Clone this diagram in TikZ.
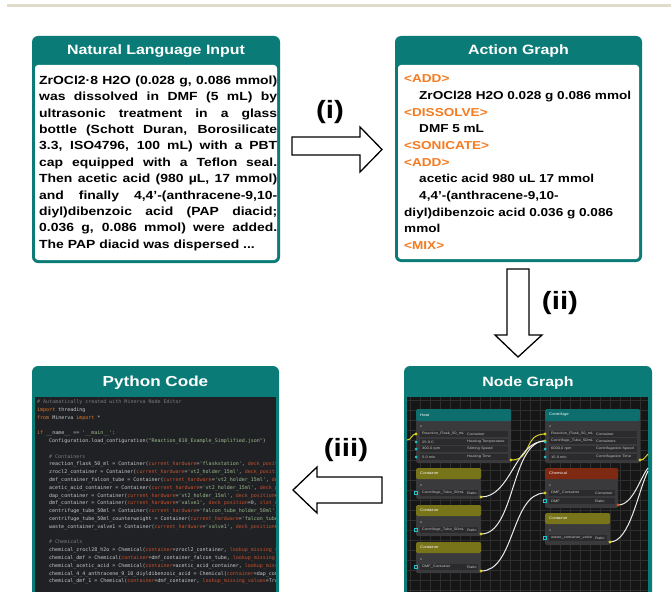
\documentclass[tikz,border=0pt]{standalone}
\usepackage{fontspec}
\setmainfont{Liberation Sans}[FakeStretch=1.18]
\newfontfamily\codefont{DejaVu Sans Mono}

\definecolor{hdteal}{HTML}{0B7B78}
\definecolor{ngteal}{HTML}{0E6E6E}
\definecolor{actorange}{HTML}{F47B20}
\definecolor{barbeige}{HTML}{E1DBCB}
\definecolor{codebg}{HTML}{1F2124}
\definecolor{codetext}{HTML}{C8C8C8}
\definecolor{pykwc}{HTML}{E0782E}
\definecolor{pyargc}{HTML}{C8502C}
\definecolor{pystrc}{HTML}{9FBC8C}
\definecolor{pycomc}{HTML}{7C7C7C}
\definecolor{gridbg}{HTML}{161616}
\definecolor{gridln}{HTML}{2E2E2E}
\definecolor{nodebody}{HTML}{3A3A3C}
\definecolor{rowbg}{HTML}{2B2B2D}
\definecolor{olivehd}{HTML}{77741A}
\definecolor{chemhd}{HTML}{7E2A12}
\definecolor{portcyan}{HTML}{1CC6CF}
\definecolor{portyel}{HTML}{D8CF1E}
\definecolor{portred}{HTML}{D8501E}
\definecolor{ngtextc}{HTML}{C4C4C4}

\newcommand{\pykw}[1]{\textcolor{pykwc}{#1}}
\newcommand{\pyarg}[1]{\textcolor{pyargc}{#1}}
\newcommand{\pystr}[1]{\textcolor{pystrc}{#1}}
\newcommand{\pycom}[1]{\textcolor{pycomc}{#1}}
\newcommand{\ind}{\hspace*{12pt}}
\newcommand{\tagop}[1]{\textcolor{actorange}{<#1>}}
% one row of a graph node: x1, x2, x of right label, y, left text, right text
\newcommand{\ngrow}[6]{%
  \fill[rowbg] (#1+4,#4-2.8) rectangle (#2-3,#4+2.8);
  \node[ngtext, anchor=west] at (#1+6,#4) {#5};
  \node[ngtext, anchor=west] at (#3,#4) {#6};}

\tikzset{
  panel/.style={fill=hdteal, rounded corners=6pt},
  paneltitle/.style={text=white, inner sep=0pt, font=\fontsize{13.5}{16}\selectfont\bfseries},
  bodytext/.style={inner sep=0pt, font=\fontsize{11.8}{16.4}\selectfont\bfseries},
  steplabel/.style={inner sep=0pt, font=\fontsize{25}{29}\selectfont\bfseries},
  blockarrow/.style={draw=black, line width=1.3pt, fill=white, line join=miter},
  ngtext/.style={text=ngtextc, inner sep=0pt, font=\fontsize{3.4}{4}\selectfont},
  ngtitle/.style={text=white, inner sep=0pt, font=\fontsize{3.6}{4}\selectfont},
  wireY/.style={portyel, line width=1pt},
  wireW/.style={white!85!gray, line width=1pt},
}

\begin{document}
\begin{tikzpicture}[x=1pt, y=-1pt]
  \useasboundingbox (0,0) rectangle (671,591);
  % top rule
  \fill[barbeige] (7,4) rectangle (671,7.5);

  % Natural language input
  \fill[panel] (32,36) rectangle (280,263);
  \fill[white, rounded corners=3pt] (35,65) rectangle (277,260);
  \node[paneltitle] (nlTitle) at (156,51) {Natural Language Input};
  \node[bodytext, text width=238pt, align=justify, anchor=north west] (nlText) at (39,75.5) {%
    ZrOCl2·8 H2O (0.028 g, 0.086 mmol)\linebreak
    was dissolved in DMF (5 mL) by\linebreak
    ultrasonic treatment in a glass\linebreak
    bottle (Schott Duran, Borosilicate\linebreak
    3.3, ISO4796, 100 mL) with a PBT\linebreak
    cap equipped with a Teflon seal.\linebreak
    Then acetic acid (980 µL, 17 mmol)\linebreak
    and finally 4,4'-(anthracene-9,10-\linebreak
    diyl)dibenzoic acid (PAP diacid;\linebreak
    0.036 g, 0.086 mmol) were added.\linebreak
    The PAP diacid was dispersed ...};

  % Action graph
  \fill[panel] (395,36) rectangle (642,262);
  \fill[white, rounded corners=3pt] (398,65) rectangle (639,259);
  \node[paneltitle] (agTitle) at (518.5,51) {Action Graph};
  \node[bodytext, font=\fontsize{11.5}{16.7}\selectfont\bfseries, align=left, anchor=north west] (agText) at (404,74.5) {%
    \tagop{ADD}\\
    \hspace*{15pt}ZrOCl28 H2O 0.028 g 0.086 mmol\\
    \tagop{DISSOLVE}\\
    \hspace*{15pt}DMF 5 mL\\
    \tagop{SONICATE}\\
    \tagop{ADD}\\
    \hspace*{15pt}acetic acid 980 uL 17 mmol\\
    \hspace*{15pt}4,4'-(anthracene-9,10-\\
    diyl)dibenzoic acid 0.036 g 0.086\\
    mmol\\
    \tagop{MIX}};

  % Python code
  \fill[panel] (32,366) rectangle (279,600);
  \fill[codebg] (35,397) rectangle (276,600);
  \node[paneltitle, font=\fontsize{14.5}{17}\selectfont\bfseries] (pyTitle) at (155.5,383) {Python Code};
  \begin{scope}
    \clip (35,397) rectangle (275,600);
    \node[anchor=north west, inner sep=0pt, text=codetext, align=left,
      font=\codefont\fontsize{5}{7.8}\selectfont] (pyCode) at (37,399.5) {%
      \pycom{\# Automatically created with Minerva Node Editor}\\
      \pykw{import} threading\\
      \pykw{from} Minerva \pykw{import} *\\[7.8pt]
      \pykw{if} \_\_name\_\_ == \pystr{'\_\_main\_\_'}:\\
      \ind Configuration.load\_configuration(\pystr{"Reaction\_010\_Example\_Simplified.json"})\\[7.8pt]
      \ind\pycom{\# Containers}\\
      \ind reaction\_flask\_50\_ml = Container(\pyarg{current\_hardware}=\pystr{'flaskstation'}, \pyarg{deck\_position}=0, \pyarg{slot\_name}\\
      \ind zrocl2\_container = Container(\pyarg{current\_hardware}=\pystr{'vt2\_holder\_15ml'}, \pyarg{deck\_position}=0, \pyarg{slot}\\
      \ind dmf\_container\_falcon\_tube = Container(\pyarg{current\_hardware}=\pystr{'vt2\_holder\_15ml'}, \pyarg{deck\_position}=1\\
      \ind acetic\_acid\_container = Container(\pyarg{current\_hardware}=\pystr{'vt2\_holder\_15ml'}, \pyarg{deck\_position}=2\\
      \ind dap\_container = Container(\pyarg{current\_hardware}=\pystr{'vt2\_holder\_15ml'}, \pyarg{deck\_position}=0, \pyarg{slot\_name}\\
      \ind dmf\_container = Container(\pyarg{current\_hardware}=\pystr{'valve1'}, \pyarg{deck\_position}=0, \pyarg{slot\_name}=\\
      \ind centrifuge\_tube\_50ml = Container(\pyarg{current\_hardware}=\pystr{'falcon\_tube\_holder\_50ml'}, \pyarg{deck}\\
      \ind centrifuge\_tube\_50ml\_counterweight = Container(\pyarg{current\_hardware}=\pystr{'falcon\_tube\_holder\_50ml'}\\
      \ind waste\_container\_valve1 = Container(\pyarg{current\_hardware}=\pystr{'valve1'}, \pyarg{deck\_position}=0, \pyarg{slot}\\[7.8pt]
      \ind\pycom{\# Chemicals}\\
      \ind chemical\_zrocl28\_h2o = Chemical(\pyarg{container}=zrocl2\_container, \pyarg{lookup\_missing\_values}=True\\
      \ind chemical\_dmf = Chemical(\pyarg{container}=dmf\_container\_falcon\_tube, \pyarg{lookup\_missing\_values}=True\\
      \ind chemical\_acetic\_acid = Chemical(\pyarg{container}=acetic\_acid\_container, \pyarg{lookup\_missing\_values}\\
      \ind chemical\_4\_4\_anthracene\_9\_10\_diyldibenzoic\_acid = Chemical(\pyarg{container}=dap\_container\\
      \ind chemical\_dmf\_1 = Chemical(\pyarg{container}=dmf\_container, \pyarg{lookup\_missing\_values}=True, \pyarg{amount}};
  \end{scope}

  % Node graph
  \fill[panel] (404,366) rectangle (652,600);
  \fill[gridbg] (407,397) rectangle (648,600);
  \node[paneltitle] (ngTitle) at (528,383) {Node Graph};
  \foreach \gx in {410,420,...,640} \draw[gridln, line width=0.5pt] (\gx,397) -- (\gx,600);
  \foreach \gy in {400,410,...,590} \draw[gridln, line width=0.5pt] (407,\gy) -- (648,\gy);

  % Heat
  \fill[nodebody, rounded corners=1.5pt] (416,409) rectangle (511,463);
  \fill[ngteal, rounded corners=1.5pt] (416,409) rectangle (511,421);
  \node[ngtitle, anchor=west] (heatHd) at (420,415) {Heat};
  \node[ngtext, anchor=west] at (420,427) {v};
  \ngrow{416}{511}{467}{434}{Reaction\_Flask\_50\_mL}{Container}
  \ngrow{416}{511}{467}{442}{25.0 C}{Heating Temperature}
  \ngrow{416}{511}{467}{449}{300.0 rpm}{Stirring Speed}
  \ngrow{416}{511}{467}{457}{5.0 min}{Heating Time}

  % Containers on the left
  \foreach \cy/\cname/\clabel in {468/contA/Centrifuge\_Tube\_50mL, 505/contB/Centrifuge\_Tube\_50mL, 542/contC/DMF\_Container}{
    \fill[nodebody, rounded corners=1.5pt] (416,\cy) rectangle (481,\cy+31);
    \fill[olivehd, rounded corners=1.5pt] (416,\cy) rectangle (481,\cy+11);
    \node[ngtitle, anchor=west] (\cname) at (420,\cy+5.5) {Container};
    \node[ngtext, anchor=west] at (420,\cy+18) {v};
    \ngrow{416}{481}{467}{\cy+25}{\clabel}{Ratio}
    \draw[portcyan, line width=0.5pt] (414.5,\cy+23.5) rectangle (417.5,\cy+26.5);
  }

  % Centrifuge
  \fill[nodebody, rounded corners=1.5pt] (545,409) rectangle (640,463);
  \fill[ngteal, rounded corners=1.5pt] (545,409) rectangle (640,421);
  \node[ngtitle, anchor=west] (cfHd) at (549,415) {Centrifuge};
  \node[ngtext, anchor=west] at (549,427) {v};
  \ngrow{545}{640}{596}{434}{Reaction\_Flask\_50\_mL}{Container}
  \ngrow{545}{640}{596}{441}{Centrifuge\_Tube\_50mL}{Containers}
  \ngrow{545}{640}{596}{449}{6000.0 rpm}{Centrifugation Speed}
  \ngrow{545}{640}{596}{457}{15.0 min}{Centrifugation Time}

  % Chemical
  \fill[nodebody, rounded corners=1.5pt] (545,468) rectangle (618,508);
  \fill[chemhd, rounded corners=1.5pt] (545,468) rectangle (618,479);
  \node[ngtitle, anchor=west] (chemHd) at (549,473.5) {Chemical};
  \node[ngtext, anchor=west] at (549,486) {v};
  \ngrow{545}{618}{595}{493}{DMF\_Container}{Container}
  \ngrow{545}{618}{595}{501}{DMF}{Ratio}
  \draw[portcyan, line width=0.5pt] (543.5,499.5) rectangle (546.5,502.5);

  % Container on the right
  \fill[nodebody, rounded corners=1.5pt] (545,513) rectangle (610,545);
  \fill[olivehd, rounded corners=1.5pt] (545,513) rectangle (610,524);
  \node[ngtitle, anchor=west] (contD) at (549,518.5) {Container};
  \node[ngtext, anchor=west] at (549,531) {v};
  \ngrow{545}{610}{595}{538}{waste\_container\_valve}{Ratio}
  \draw[portcyan, line width=0.5pt] (543.5,536.5) rectangle (546.5,539.5);

  % ports
  \coordinate (heatIn) at (416,434);
  \coordinate (heatOut) at (511,460);
  \coordinate (cfIn) at (545,434);
  \coordinate (cfTube) at (545,441);
  \coordinate (cfOut) at (640,460);
  \coordinate (chemIn) at (545,493);
  \coordinate (chemOut) at (618,505);
  \coordinate (contAOut) at (481,497);
  \coordinate (contBOut) at (481,534);
  \coordinate (contCOut) at (481,571);
  \coordinate (contDOut) at (610,542);
  \coordinate (leftEdge) at (407,440);
  \coordinate (rightEdgeA) at (648,454);
  \coordinate (rightEdgeB) at (648,468);
  \coordinate (rightEdgeC) at (648,471);

  % wires
  \draw[wireY] (leftEdge) .. controls +(5,0) and +(-5,0) .. (heatIn);
  \draw[wireY] (heatOut) .. controls +(22,0) and +(-22,0) .. (cfIn);
  \draw[wireW] (contAOut) .. controls +(30,0) and +(-30,0) .. (cfTube);
  \draw[wireW] (contBOut) .. controls +(34,0) and +(-34,0) .. (cfTube);
  \draw[wireW] (contCOut) .. controls +(34,0) and +(-34,0) .. (chemIn);
  \draw[wireY] (cfOut) .. controls +(5,0) and +(-3,2) .. (rightEdgeA);
  \draw[wireW] (chemOut) .. controls +(15,0) and +(-8,10) .. (rightEdgeB);
  \draw[wireW] (contDOut) .. controls +(20,0) and +(-10,20) .. (rightEdgeC);

  \foreach \p in {heatIn, heatOut, cfIn, cfTube, cfOut, chemIn, contAOut, contBOut, contCOut, contDOut}
    \fill[portyel] (\p) circle (1.6);
  \fill[portred] (chemOut) circle (1.6);
  \foreach \py in {442,449,457} {
    \fill[portcyan] (416,\py) circle (1.5);
    \fill[portcyan] (545,\py) circle (1.5);
  }

  % step arrows
  \draw[blockarrow] (292,137) -- (360,137) -- (360,127) -- (382,149.5) -- (360,172) -- (360,155) -- (292,155) -- cycle;
  \node[steplabel] (stepI) at (330,112) {(i)};
  \draw[blockarrow] (507,269) -- (529,269) -- (529,335) -- (542,335) -- (518,357) -- (495,335) -- (507,335) -- cycle;
  \node[steplabel] (stepII) at (560,303) {(ii)};
  \draw[blockarrow] (382,477) -- (317,477) -- (317,467) -- (293,490) -- (317,513) -- (317,503) -- (382,503) -- cycle;
  \node[steplabel] (stepIII) at (346,450) {(iii)};
\end{tikzpicture}
\end{document}
